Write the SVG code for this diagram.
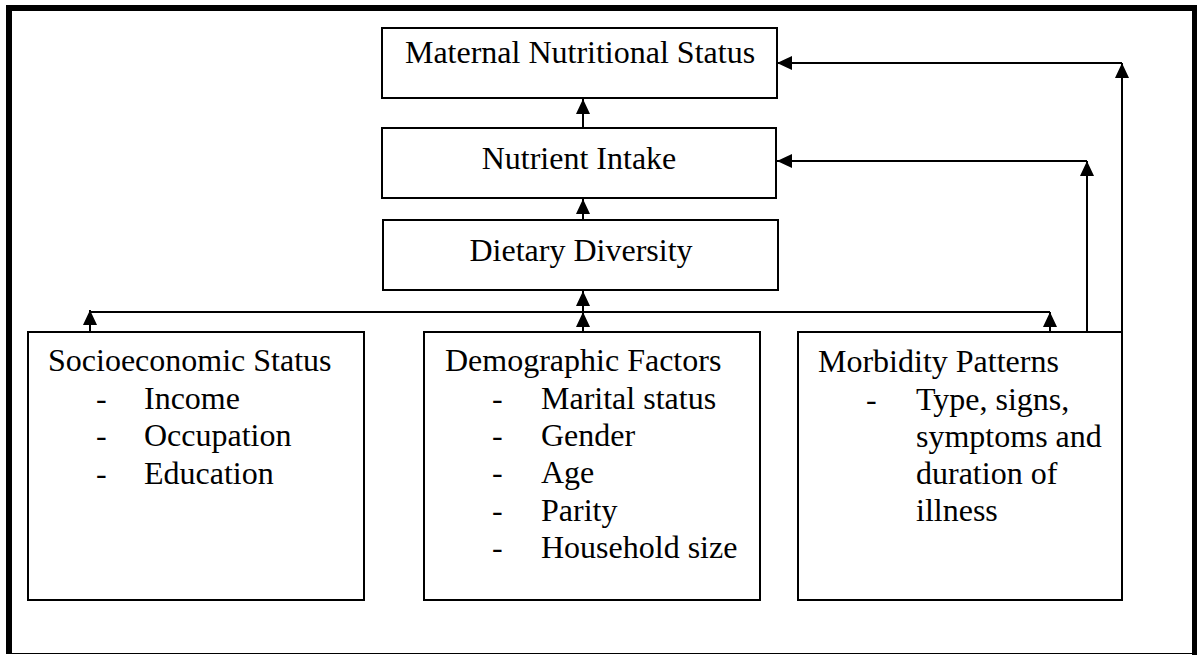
<svg xmlns="http://www.w3.org/2000/svg" width="1197" height="655" viewBox="0 0 1197 655">
<style>
.box{fill:#fff;stroke:#000;stroke-width:2}
.t{font-family:"Liberation Serif","Times New Roman",serif;font-size:32px;fill:#000}
.c{text-anchor:middle}
.ln{fill:none;stroke:#000;stroke-width:2}
.ar{marker-end:url(#ah)}
</style>
<defs>
<marker id="ah" markerUnits="userSpaceOnUse" markerWidth="16" markerHeight="16" refX="15" refY="7" orient="auto">
<path d="M0,0 L15,7 L0,14 Z" fill="#000"/>
</marker>
</defs>
<rect width="1197" height="655" fill="#fff"/>
<g id="frame">
<rect x="6" y="5" width="1191" height="6" fill="#000"/>
<rect x="6" y="5" width="6" height="649" fill="#000"/>
<rect x="1192" y="5" width="5" height="650" fill="#000"/>
<line x1="6" y1="653.5" x2="1197" y2="653.5" stroke="#000" stroke-width="1.2"/>
</g>
<g id="connectors">
<path class="ln ar" d="M583,290 V199"/>
<path class="ln ar" d="M583,128 V99"/>
<path class="ln ar" d="M583,332 V312"/>
<path class="ln ar" d="M583,312 V291"/>
<path class="ln" d="M90,312 H1050"/>
<path class="ln ar" d="M90,332 V310"/>
<path class="ln ar" d="M1050,332 V312"/>
<path class="ln ar" d="M1087,332 V161"/>
<path class="ln ar" d="M1087,161 H777"/>
<path class="ln ar" d="M1122,467 V63"/>
<path class="ln ar" d="M1122,63 H777"/>
</g>
<g id="maternal">
<rect class="box" x="382" y="28" width="395" height="70"/>
<text class="t c" x="580" y="63">Maternal Nutritional Status</text>
</g>
<g id="nutrient">
<rect class="box" x="382" y="128" width="394" height="70"/>
<text class="t c" x="579" y="169">Nutrient Intake</text>
</g>
<g id="dietary">
<rect class="box" x="383" y="220" width="395" height="70"/>
<text class="t c" x="581" y="261">Dietary Diversity</text>
</g>
<g id="socio">
<rect class="box" x="28" y="332" width="336" height="268"/>
<text class="t" x="48" y="371">Socioeconomic Status</text>
<text class="t" x="96" y="409">-</text><text class="t" x="144" y="409">Income</text>
<text class="t" x="96" y="446">-</text><text class="t" x="144" y="446">Occupation</text>
<text class="t" x="96" y="484">-</text><text class="t" x="144" y="484">Education</text>
</g>
<g id="demo">
<rect class="box" x="424" y="332" width="336" height="268"/>
<text class="t" x="445" y="371">Demographic Factors</text>
<text class="t" x="492" y="409">-</text><text class="t" x="541" y="409">Marital status</text>
<text class="t" x="492" y="446">-</text><text class="t" x="541" y="446">Gender</text>
<text class="t" x="492" y="483">-</text><text class="t" x="541" y="483">Age</text>
<text class="t" x="492" y="521">-</text><text class="t" x="541" y="521">Parity</text>
<text class="t" x="492" y="558">-</text><text class="t" x="541" y="558">Household size</text>
</g>
<g id="morbidity">
<rect class="box" x="798" y="332" width="324" height="268"/>
<text class="t" x="818" y="372">Morbidity Patterns</text>
<text class="t" x="866" y="410">-</text><text class="t" x="916" y="410">Type, signs,</text>
<text class="t" x="916" y="447">symptoms and</text>
<text class="t" x="916" y="484">duration of</text>
<text class="t" x="916" y="521">illness</text>
</g>
</svg>
